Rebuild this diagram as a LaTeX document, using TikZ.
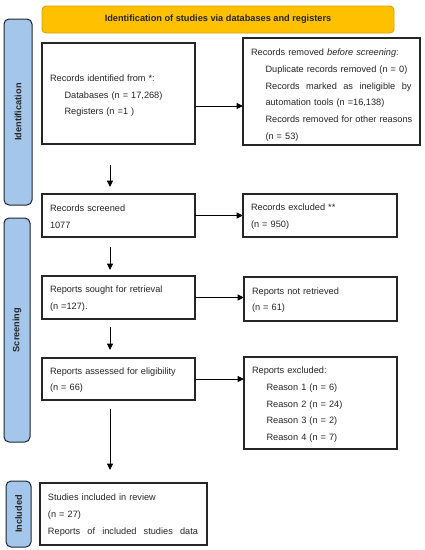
\documentclass[tikz,border=0pt]{standalone}
\usepackage{fontspec}
\setmainfont{Liberation Sans}
\usetikzlibrary{arrows.meta}
\definecolor{hdrfill}{HTML}{FFC000}
\definecolor{hdrdraw}{HTML}{D9A200}
\definecolor{sidefill}{HTML}{A4C6EA}
\definecolor{sidedraw}{HTML}{1F2530}
\definecolor{txt}{HTML}{262626}
\tikzset{
  x=1pt, y=-1pt,
  every node/.style={font=\fontsize{9.2}{16.7}\selectfont, text=txt, inner sep=0pt, outer sep=0pt},
  box/.style={draw=black!85, line width=1.3pt, fill=white, anchor=north west,
    align=left, inner xsep=8pt},
  header/.style={draw=hdrdraw, line width=0.9pt, fill=hdrfill, rounded corners=4pt,
    anchor=north west, font=\fontsize{9.2}{11}\selectfont\bfseries},
  side/.style={draw=sidedraw, line width=1pt, fill=sidefill, rounded corners=5pt,
    anchor=north west},
  sidelabel/.style={rotate=90, font=\fontsize{9.2}{11}\selectfont\bfseries},
  arr/.style={draw=black, line width=1pt, -{Triangle[length=6.5pt,width=6pt]}},
}
\newcommand{\ind}{\hspace*{14.5pt}}
\newcommand{\tstr}[1]{\rule{0pt}{#1}}
\begin{document}
\begin{tikzpicture}
\useasboundingbox (0,0) rectangle (424,550);
% header
\node[header, minimum width=352pt, minimum height=27pt] (hdr) at (42,6)
  {Identification of studies via databases and registers};
% sidebars
\node[side, minimum width=28pt, minimum height=186pt] (sid) at (4,19) {};
\node[sidelabel] (sidl) at (sid.center) {Identification};
\node[side, minimum width=26pt, minimum height=224pt] (sscr) at (4,218) {};
\node[sidelabel] (sscrl) at (sscr.center) {Screening};
\node[side, minimum width=25pt, minimum height=66pt] (sinc) at (6,481) {};
\node[sidelabel] (sincl) at (sinc.center) {Included};
% boxes
\node[box, minimum width=153pt, minimum height=101pt, text width=137pt] (ident) at (42,43)
  {\tstr{11pt}\mbox{Records identified from *:}\\ \ind\mbox{Databases (n = 17,268)}\\ \ind\mbox{Registers (n =1 )}};
\node[box, minimum width=177pt, minimum height=107pt, text width=161pt] (removed) at (243,38)
  {\tstr{14pt}\mbox{Records removed \textit{before screening}:}\\
   \ind\mbox{Duplicate records removed (n = 0)}\\
   \ind\hbox to 146pt{Records\hfill marked\hfill as\hfill ineligible\hfill by}\\
   \ind\mbox{automation tools (n =16,138)}\\
   \ind\mbox{Records removed for other reasons}\\
   \ind\mbox{(n = 53)}};
\node[box, minimum width=153pt, minimum height=43pt, text width=137pt] (screened) at (42,194)
  {\tstr{9pt}Records screened\\ 1077};
\node[box, minimum width=154pt, minimum height=43pt, text width=138pt] (excluded) at (243,194)
  {\tstr{9pt}Records excluded **\\ (n = 950)};
\node[box, minimum width=153pt, minimum height=43pt, text width=137pt] (sought) at (42,276)
  {\tstr{9pt}Reports sought for retrieval\\ (n =127).};
\node[box, minimum width=153pt, minimum height=44pt, text width=137pt] (notret) at (244,277)
  {\tstr{9pt}Reports not retrieved\\ (n = 61)};
\node[box, minimum width=153pt, minimum height=42pt, text width=137pt] (assessed) at (42,358)
  {\tstr{9pt}\mbox{Reports assessed for eligibility}\\ (n = 66)};
\node[box, minimum width=153pt, minimum height=92pt, text width=137pt] (repexcl) at (244,357)
  {\tstr{10pt}Reports excluded:\\ \ind Reason 1 (n = 6)\\ \ind Reason 2 (n = 24)\\
   \ind Reason 3 (n = 2)\\ \ind Reason 4 (n = 7)};
\node[box, minimum width=167pt, minimum height=62pt, text width=151pt] (included) at (40,483)
  {\tstr{9pt}Studies included in review\\ (n = 27)\\ \hbox to 150pt{Reports\hfill of\hfill included\hfill studies\hfill data}};
% connectors
\coordinate (ax) at (110,0);
\draw[arr] ([yshift=-12.5pt]ident.east) -- ([yshift=-12.5pt]ident.east -| removed.west);
\draw[arr] (screened.east) -- (screened.east -| excluded.west);
\draw[arr] (sought.east) -- (sought.east -| notret.west);
\draw[arr] (assessed.east) -- (assessed.east -| repexcl.west);
\draw[arr, shorten <=21pt, shorten >=7pt] (ident.south -| ax) -- (screened.north -| ax);
\draw[arr, shorten <=10pt, shorten >=6pt] (screened.south -| ax) -- (sought.north -| ax);
\draw[arr, shorten <=8pt, shorten >=8pt] (sought.south -| ax) -- (assessed.north -| ax);
\draw[arr, shorten <=9pt, shorten >=13pt] (assessed.south -| ax) -- (included.north -| ax);
\end{tikzpicture}
\end{document}
